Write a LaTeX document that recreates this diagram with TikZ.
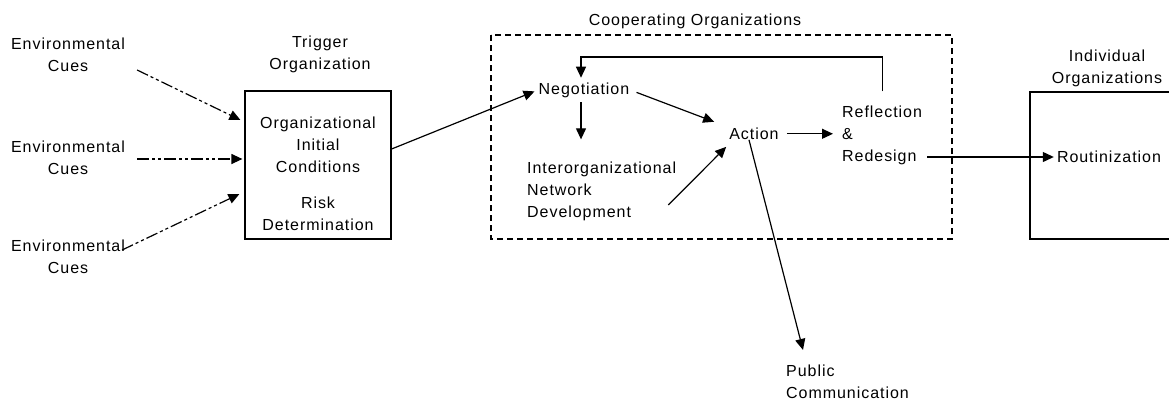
\documentclass[tikz,border=0pt]{standalone}
\usepackage{fontspec}
\setmainfont[LetterSpace=6]{Liberation Sans}
\usetikzlibrary{arrows.meta}

\begin{document}
\begin{tikzpicture}[x=1pt,y=-1pt,
    every node/.style={font=\fontsize{16}{22}\selectfont,inner sep=0pt,align=center},
    arr/.style={-{Triangle[length=11pt,width=10pt]},line width=1.2pt},
    cuearr/.style={arr,dash pattern=on 12pt off 3pt on 3pt off 3pt on 3pt off 3pt},
    box/.style={draw,line width=1.2pt}]
    \clip (0,0) rectangle (1169,402);
    % outer boxes
    \draw[line width=1.2pt,dash pattern=on 6pt off 4pt] (491,35) rectangle (952,239);
    \node[box,minimum width=146,minimum height=148] (trig) at (318,165) {};
    \draw[box] (1200,92) -| (1030,239) -- (1200,239);
    \node[anchor=base] (coop) at (695,25.5) {Cooperating Organizations};
    \node (triglbl) at (320,54) {Trigger\\Organization};
    \node (indlbl) at (1107,68) {Individual\\Organizations};
    % environmental cues
    \node (cue1) at (68,55) {Environmental\\Cues};
    \node (cue2) at (68,158) {Environmental\\Cues};
    \node (cue3) at (68,257) {Environmental\\Cues};
    \node (init) at (318,145) {Organizational\\Initial\\Conditions};
    \node (risk) at (318,214) {Risk\\Determination};
    % inside the cooperating box
    \node[anchor=base] (nego) at (584,94.5) {Negotiation};
    \node[anchor=west,align=left] (net) at (527,191) {Interorganizational\\Network\\Development};
    \node[anchor=base] (act) at (754,139.5) {Action};
    \node[anchor=west,align=left] (refl) at (842,135) {Reflection\\\&\\Redesign};
    \node[anchor=base] (rout) at (1109,162.5) {Routinization};
    \node[anchor=west,align=left] (pub) at (786,382) {Public\\Communication};
    \coordinate (fb) at (581,57);
    % cue arrows
    \draw[cuearr] ([shift={(12,15)}]cue1.east) -- ([shift={(-4,-45)}]trig.west);
    \draw[cuearr] ([shift={(12,1)}]cue2.east) -- ([shift={(-2,-6)}]trig.west);
    \draw[cuearr] ([shift={(-3,-7)}]cue3.east) -- ([shift={(-5,29)}]trig.west);
    % flow
    \draw[arr] ([yshift=16pt]trig.east) -- ([shift={(-4,1)}]nego.west);
    \draw[arr,shorten <=4pt,shorten >=22pt] (nego.south -| fb) -- (fb |- net.north);
    \draw[arr] ([shift={(7,2)}]nego.east) -- ([shift={(-15,-12)}]act.west);
    \draw[arr] ([shift={(-8,14)}]net.east) -- ([shift={(-3,7)}]act.south west);
    \draw[arr,shorten <=8pt,shorten >=9pt] (act.east) -- (act.east -| refl.west);
    \draw[arr] ([yshift=14pt]refl.north) |- (fb) -- ([yshift=5pt]fb |- nego.north);
    \draw[arr,shorten <=5pt,shorten >=3pt] ([yshift=-22pt]refl.east) -- ([yshift=-22pt]refl.east -| rout.west);
    \draw[arr] ([xshift=-5pt]act.south) -- ([shift={(17,-15)}]pub.north west);
\end{tikzpicture}
\end{document}
